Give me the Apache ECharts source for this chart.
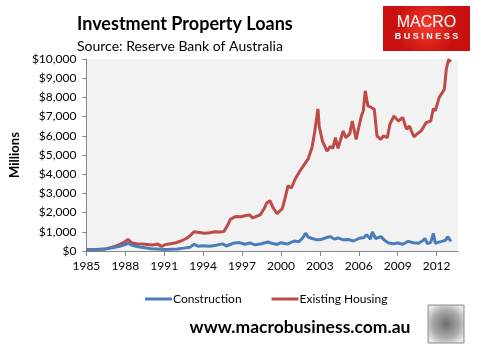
<!DOCTYPE html>
<html>
<head>
<meta charset="utf-8">
<script src="https://cdn.jsdelivr.net/npm/echarts@6/dist/echarts.min.js"></script>
<style>html,body{margin:0;padding:0;background:#fff;}#c{width:478px;height:345px;}</style>
</head>
<body>
<div id="c"></div>
<script>
const xTickYears = [1985, 1988, 1991, 1994, 1997, 2000, 2003, 2006, 2009, 2012];

const existingYears = [1985.0,1985.5,1986.0,1986.5,1987.0,1987.5,1987.9,1988.2,1988.5,1988.9,1989.3,1989.7,1990.1,1990.5,1990.8,1991.1,1991.5,1991.9,1992.3,1992.7,1993.0,1993.3,1993.7,1994.1,1994.5,1994.9,1995.3,1995.6,1995.9,1996.1,1996.5,1996.9,1997.3,1997.6,1997.8,1998.1,1998.4,1998.7,1998.9,1999.15,1999.4,1999.7,1999.85,2000.1,2000.3,2000.55,2000.8,2001.1,2001.4,2001.6,2001.9,2002.1,2002.4,2002.6,2002.85,2002.95,2003.2,2003.35,2003.55,2003.8,2004.0,2004.2,2004.4,2004.55,2004.8,2005.0,2005.3,2005.5,2005.8,2005.95,2006.2,2006.35,2006.5,2006.7,2006.9,2007.2,2007.4,2007.7,2007.9,2008.2,2008.4,2008.7,2009.05,2009.4,2009.6,2009.7,2009.9,2010.25,2010.5,2010.8,2011.2,2011.55,2011.75,2011.9,2012.2,2012.45,2012.6,2012.75,2012.93,2013.1];
const existingValues = [80,70,90,110,200,320,450,600,420,380,370,340,310,360,240,340,380,430,520,650,800,1000,960,920,950,1000,990,1020,1350,1650,1800,1780,1850,1880,1720,1800,1880,2200,2500,2620,2250,1950,1880,2200,2700,3400,3280,3750,4100,4300,4600,4800,5400,6200,7400,6500,5720,5640,5200,5450,5350,5900,5350,5290,6250,5900,6100,6770,5810,6300,7030,7300,8340,7560,7500,7380,6000,5810,6000,5900,6600,7030,6770,6950,6500,6340,6510,5950,6100,6250,6690,6770,7420,7300,8000,8260,8430,9480,9980,9850];

const constructionYears = [1985.0,1985.5,1986.0,1986.5,1987.0,1987.5,1988.0,1988.2,1988.5,1989.0,1989.5,1990.0,1990.5,1991.0,1991.5,1992.0,1992.5,1993.0,1993.3,1993.6,1994.0,1994.5,1995.0,1995.5,1995.8,1996.3,1996.8,1997.2,1997.6,1998.0,1998.5,1999.0,1999.3,1999.7,2000.0,2000.5,2001.0,2001.4,2001.7,2001.9,2002.1,2002.4,2002.8,2003.1,2003.5,2003.8,2004.1,2004.4,2004.8,2005.2,2005.6,2006.0,2006.4,2006.6,2006.9,2007.05,2007.3,2007.7,2008.0,2008.3,2008.7,2009.0,2009.4,2009.8,2010.2,2010.6,2010.9,2011.1,2011.3,2011.55,2011.75,2011.9,2012.1,2012.4,2012.7,2012.85,2013.1];
const constructionValues = [30,60,80,120,170,230,330,420,300,220,170,120,100,80,90,110,150,200,350,250,270,250,300,370,260,400,440,350,420,320,380,470,400,340,430,360,520,480,700,930,720,650,580,600,700,750,620,680,580,600,520,650,700,850,620,1000,650,750,550,420,380,420,350,500,430,400,520,650,380,450,920,400,450,500,560,750,500];

const FONT = 'Lato';
const zip = (xs, ys) => xs.map((x, i) => [x, ys[i]]);

const chart = echarts.init(document.getElementById('c'), null, {renderer: 'canvas'});
chart.setOption({
  animation: false,
  backgroundColor: '#ffffff',
  textStyle: {fontFamily: FONT},
  title: {
    text: 'Investment Property Loans',
    subtext: 'Source: Reserve Bank of Australia',
    left: 72, top: 10, itemGap: 6,
    textStyle: {fontFamily: FONT, fontWeight: 'bold', fontSize: 18, color: '#000'},
    subtextStyle: {fontFamily: FONT, fontSize: 14, color: '#000'}
  },
  grid: {left: 76, right: 20, top: 59, bottom: 94, show: true, backgroundColor: '#f2f2f2', borderWidth: 0},
  xAxis: {
    type: 'value', min: 1985, max: 2013.65,
    axisLine: {lineStyle: {color: '#868686', width: 1}},
    axisTick: {show: true, length: 5, lineStyle: {color: '#868686'}, customValues: xTickYears},
    axisLabel: {customValues: xTickYears, color: '#000', fontSize: 12, fontFamily: FONT, margin: 9, formatter: v => String(v)},
    splitLine: {show: false}
  },
  yAxis: {
    type: 'value', min: 0, max: 10000, interval: 1000,
    name: 'Millions', nameLocation: 'middle', nameRotate: 90, nameGap: 60,
    nameTextStyle: {fontFamily: FONT, fontWeight: 'bold', fontSize: 13, color: '#000'},
    axisLine: {show: true, lineStyle: {color: '#868686', width: 1}},
    axisTick: {show: true, length: 4, lineStyle: {color: '#868686'}},
    axisLabel: {color: '#000', fontSize: 12, fontFamily: FONT, margin: 10,
      formatter: v => '$' + v.toLocaleString('en-US')},
    splitLine: {show: false}
  },
  legend: {
    left: 140, top: 288, itemGap: 30, itemWidth: 27, itemHeight: 3,
    icon: 'rect', textStyle: {fontFamily: FONT, fontSize: 12, color: '#000', padding: [0,0,0,-4]},
    data: ['Construction', 'Existing Housing']
  },
  series: [
    {name: 'Construction', type: 'line', data: zip(constructionYears, constructionValues),
     showSymbol: false, lineStyle: {color: '#4a7ebb', width: 3}, itemStyle: {color: '#4a7ebb'}, z: 3},
    {name: 'Existing Housing', type: 'line', data: zip(existingYears, existingValues),
     showSymbol: false, lineStyle: {color: '#be4b48', width: 3}, itemStyle: {color: '#be4b48'}, z: 2}
  ],
  graphic: [
    {type: 'rect', shape: {x: 383, y: 6, width: 87, height: 45},
     style: {fill: {type: 'radial', x: 0.5, y: 0.45, r: 0.7,
       colorStops: [{offset: 0, color: '#f5392f'}, {offset: 1, color: '#c8110e'}]}}},
    {type: 'text', style: {x: 426.5, y: 23, text: 'MACRO', fill: '#fff', fontFamily: 'Liberation Sans', fontSize: 16, fontWeight: 'normal', align: 'center', verticalAlign: 'middle'}},
    {type: 'text', style: {x: 426.5, y: 36.5, text: 'B U S I N E S S', fill: '#fff', fontFamily: 'Liberation Sans', fontSize: 9, fontWeight: 'bold', align: 'center', verticalAlign: 'middle'}},
    {type: 'text', style: {x: 300, y: 327, text: 'www.macrobusiness.com.au', fill: '#000', fontFamily: FONT, fontSize: 17.5, fontWeight: 'bold', align: 'center', verticalAlign: 'middle'}},
    {type: 'rect', shape: {x: 428, y: 305, width: 36, height: 38},
     style: {fill: {type: 'radial', x: 0.5, y: 0.5, r: 0.6,
       colorStops: [{offset: 0, color: '#6e6e6e'}, {offset: 0.6, color: '#a8a8a8'}, {offset: 1, color: '#e6e6e6'}]}, stroke: '#8c8c8c', lineWidth: 1}}
  ]
});
</script>
</body>
</html>
